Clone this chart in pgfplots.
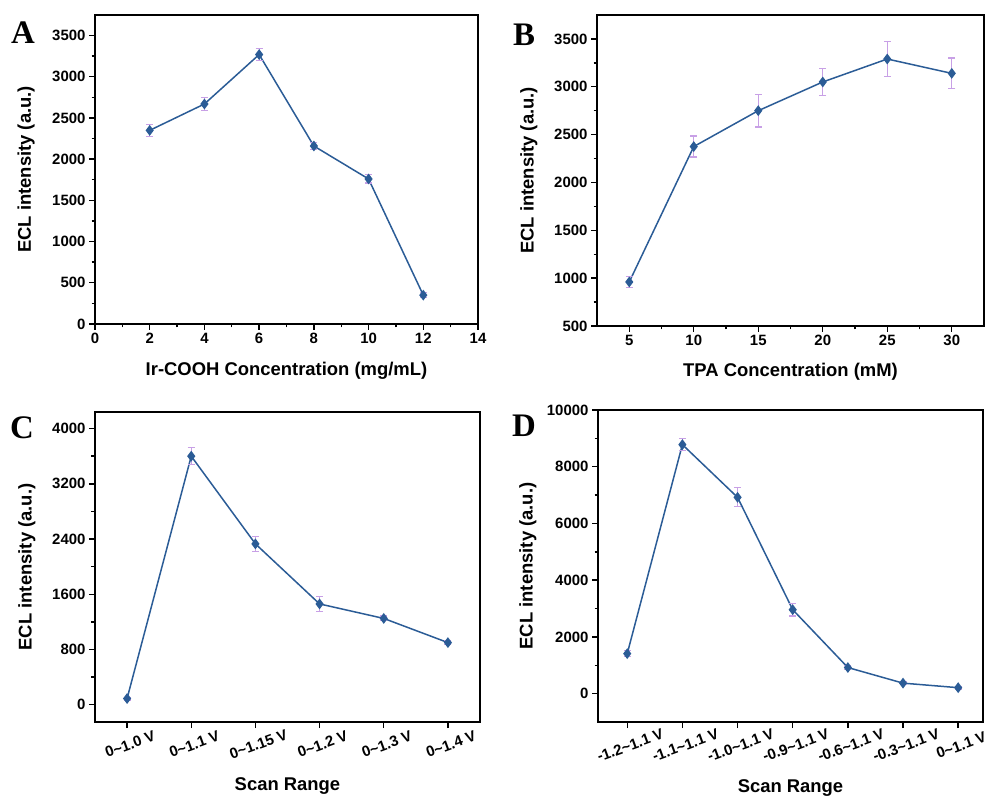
\documentclass[border=0pt]{standalone}
\usepackage{fontspec}
\setmainfont{Liberation Sans}
\newfontfamily\letterfont{Liberation Serif}
\usepackage{pgfplots}
\usepackage{pgfplotstable}
\pgfplotsset{compat=1.18}

\definecolor{linec}{RGB}{43,92,150}
\definecolor{errc}{RGB}{200,160,230}

% x  y  err
\pgfplotstableread{
x y e
2 2350 70
4 2670 80
6 3270 70
8 2160 45
10 1760 50
12 350 30
}\dataA
\pgfplotstableread{
x y e
5 960 60
10 2375 110
15 2750 170
20 3050 140
25 3290 185
30 3140 160
}\dataB
\pgfplotstableread{
x y e
0 90 20
1 3600 120
2 2330 110
3 1460 105
4 1250 35
5 900 25
}\dataC
\pgfplotstableread{
x y e
0 1410 100
1 8780 220
2 6920 335
3 2960 220
4 920 80
5 370 60
6 210 50
}\dataD

\pgfplotsset{
  panel/.style={
    scale only axis,
    clip=false,
    axis line style={line width=1.6bp},
    every tick/.style={line width=1.4bp, black},
    tick align=outside,
    xtick pos=bottom, ytick pos=left,
    major tick length=6bp, minor tick length=3.5bp,
    tick label style={font=\fontsize{15}{15}\selectfont\bfseries},
    label style={font=\fontsize{18.5}{19}\selectfont\bfseries},
    /pgf/number format/assume math mode=true,
    /pgf/number format/1000 sep={},
    scaled ticks=false,
    ylabel={ECL intensity (a.u.)},
  },
  serie/.style={color=linec, line width=1.5bp, mark=diamond*, mark size=4.2bp,
    mark options={solid, fill=linec}},
  errs/.style={draw=none, forget plot,
    error bars/.cd, y dir=both, y explicit,
    error bar style={draw=errc, line width=1.2bp},
    error mark options={rotate=90, draw=errc, mark size=3.5bp, line width=1.2bp}},
}

\begin{document}
\begin{tikzpicture}
\path[use as bounding box] (0,0) rectangle (988bp,798bp);

% A
\begin{axis}[panel, at={(95bp,474bp)}, anchor=south west,
    width=383bp, height=309bp,
    xmin=0, xmax=14, ymin=0, ymax=3750,
    xtick={0,2,...,14}, ytick={0,500,...,3500},
    minor x tick num=1, minor y tick num=1,
    xlabel={Ir-COOH Concentration (mg/mL)},
    xlabel style={at={(axis description cs:0.5,-0.152)}, anchor=center},
    ylabel style={at={(axis description cs:-0.180,0.5)}, anchor=center}]
\addplot[serie] table[x=x, y=y] {\dataA};
\addplot[errs] table[x=x, y=y, y error=e] {\dataA};
\end{axis}

% B
\begin{axis}[panel, at={(597bp,472bp)}, anchor=south west,
    width=387bp, height=311bp,
    xmin=2.5, xmax=32.5, ymin=500, ymax=3750,
    xtick={5,10,...,30}, ytick={500,1000,...,3500},
    minor x tick num=1, minor y tick num=1,
    xlabel={TPA Concentration (mM)},
    xlabel style={at={(axis description cs:0.5,-0.148)}, anchor=center},
    ylabel style={at={(axis description cs:-0.176,0.5)}, anchor=center}]
\addplot[serie] table[x=x, y=y] {\dataB};
\addplot[errs] table[x=x, y=y, y error=e] {\dataB};
\end{axis}

% C
\begin{axis}[panel, at={(95bp,76bp)}, anchor=south west,
    width=385bp, height=310bp,
    xmin=-0.5, xmax=5.5, ymin=-250, ymax=4240,
    xtick={0,...,5}, ytick={0,800,...,4000},
    minor y tick num=1,
    xticklabels={0\textasciitilde1.0 V, 0\textasciitilde1.1 V, 0\textasciitilde1.15 V,
                 0\textasciitilde1.2 V, 0\textasciitilde1.3 V, 0\textasciitilde1.4 V},
    xticklabel style={rotate=20, anchor=north},
    xticklabel shift=8bp,
    xlabel={Scan Range},
    xlabel style={at={(axis description cs:0.5,-0.208)}, anchor=center},
    ylabel style={at={(axis description cs:-0.177,0.5)}, anchor=center}]
\addplot[serie] table[x=x, y=y] {\dataC};
\addplot[errs] table[x=x, y=y, y error=e] {\dataC};
\end{axis}

% D
\begin{axis}[panel, at={(598bp,76bp)}, anchor=south west,
    width=385bp, height=312bp,
    xmin=-0.53, xmax=6.45, ymin=-1000, ymax=10000,
    xtick={0,...,6}, ytick={0,2000,...,10000},
    minor y tick num=1,
    xticklabels={-1.2\textasciitilde1.1 V, -1.1\textasciitilde1.1 V, -1.0\textasciitilde1.1 V,
                 -0.9\textasciitilde1.1 V, -0.6\textasciitilde1.1 V, -0.3\textasciitilde1.1 V,
                 0\textasciitilde1.1 V},
    xticklabel style={rotate=20, anchor=north},
    xticklabel shift=9bp,
    xlabel={Scan Range},
    xlabel style={at={(axis description cs:0.5,-0.213)}, anchor=center},
    ylabel style={at={(axis description cs:-0.182,0.5)}, anchor=center}]
\addplot[serie] table[x=x, y=y] {\dataD};
\addplot[errs] table[x=x, y=y, y error=e] {\dataD};
\end{axis}

\node[font=\letterfont\bfseries\fontsize{33}{33}\selectfont] at (23bp,765bp) {A};
\node[font=\letterfont\bfseries\fontsize{33}{33}\selectfont] at (524bp,763bp) {B};
\node[font=\letterfont\bfseries\fontsize{33}{33}\selectfont] at (22bp,370bp) {C};
\node[font=\letterfont\bfseries\fontsize{33}{33}\selectfont] at (524bp,372bp) {D};
\end{tikzpicture}
\end{document}
